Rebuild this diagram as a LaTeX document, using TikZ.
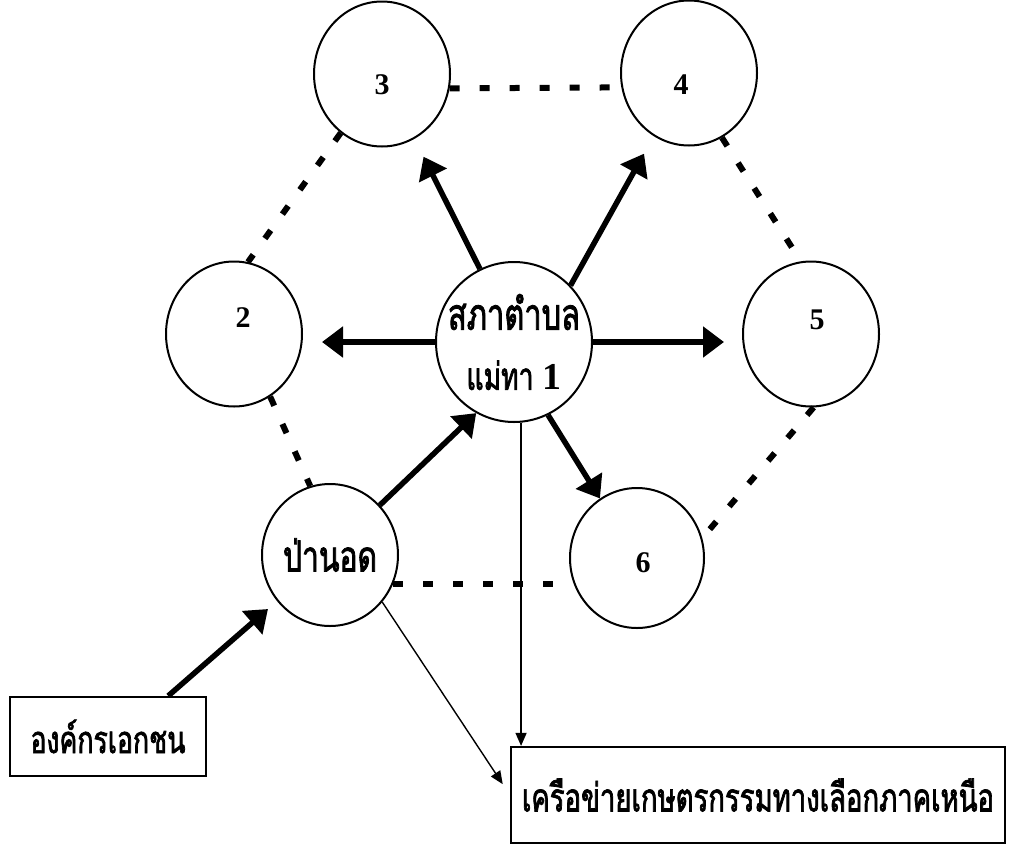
\documentclass[tikz,border=0pt]{standalone}
\usepackage{fontspec}
\setmainfont{Liberation Serif}
\newfontfamily\thaifont[Script=Thai,FakeStretch=0.7,FakeBold=1.8]{Loma}
\usetikzlibrary{shapes.geometric,arrows.meta,calc}
\begin{document}
\begin{tikzpicture}[x=1pt,y=-1pt,
  circ/.style={ellipse,draw,line width=2pt,minimum width=136pt,minimum height=145pt,inner sep=-20pt},
  num/.style={font=\fontsize{30}{30}\selectfont\bfseries},
  thai/.style={font=\thaifont\fontsize{30}{60}\selectfont},
  boxnode/.style={draw,line width=2.2pt,inner sep=0pt},
  thickarrow/.style={line width=5.5pt,-{Triangle[length=21pt,width=30pt]}},
  thinarrow/.style={line width=1.4pt,-{Triangle[length=13pt,width=11pt]}},
  dotline/.style={line width=6pt,dash pattern=on 10pt off 20pt}]
\useasboundingbox[fill=white] (0,0) rectangle (1009,846);
% circles
\node[circ,label={[num,yshift=-11pt]center:3}] (c3) at (382,74) {};
\node[circ,label={[num,xshift=-8pt,yshift=-12pt]center:4}] (c4) at (689,73) {};
\node[circ,label={[num,xshift=9pt,yshift=16pt]center:2}] (c2) at (234,334) {};
\node[circ,label={[num,xshift=6pt,yshift=14pt]center:5}] (c5) at (811,334) {};
\node[circ,minimum width=134pt,minimum height=140pt,label={[num,xshift=6pt,yshift=-5pt]center:6}] (c6) at (637,558) {};
\node[circ,minimum width=156pt,minimum height=160pt,thai,align=center] (cc) at (514,342)
  {\resizebox{132pt}{!}{สภาตำบล}\\\resizebox{95pt}{!}{แม่ทา {\rmfamily\bfseries 1}}};
\node[circ,minimum height=142pt,thai] (cp) at (330,555) {\resizebox{94pt}{!}{ป่านอด}};
% boxes
\node[boxnode,minimum width=196pt,minimum height=79pt,thai] (b1) at (108,736.5) {\resizebox{155pt}{!}{องค์กรเอกชน}};
\node[boxnode,minimum width=494pt,minimum height=96pt,thai] (b2) at (758,795) {\resizebox{472pt}{!}{เครือข่ายเกษตรกรรมทางเลือกภาคเหนือ}};
% dotted links
\draw[dotline] (c3.-12) -- (c4.192);
\draw[dotline] (c3.-125) -- (c2.79);
\draw[dotline] (c4.-63) -- (c5.98);
\draw[dotline] (c2.-60) -- (cp.106);
\draw[dotline] (cp.-25) -- (cp.-25 -| c6.west);
\draw[dotline] (c5.-88) -- (c6.17);
% thick arrows
\draw[thickarrow,shorten >=19pt] (cc.west) -- (cc.west -| c2.east);
\draw[thickarrow,shorten >=18pt] (cc.east) -- (cc.east -| c5.west);
\draw[thickarrow,shorten >=20pt] (cc.115) -- (c3);
\draw[thickarrow,shorten >=20pt] (cc.45) -- (c4);
\draw[thickarrow] (cc.-65) -- (c6);
\draw[thickarrow] (cp.45) -- (cc.-118);
\draw[thickarrow,shorten >=12pt] (b1.34) -- (cp);
% thin arrows
\draw[thinarrow] (cc.-85) -- (cc.-85 |- b2.north);
\draw[thinarrow,shorten >=13pt] (cp.-42) -- (b2.west);
\end{tikzpicture}
\end{document}
